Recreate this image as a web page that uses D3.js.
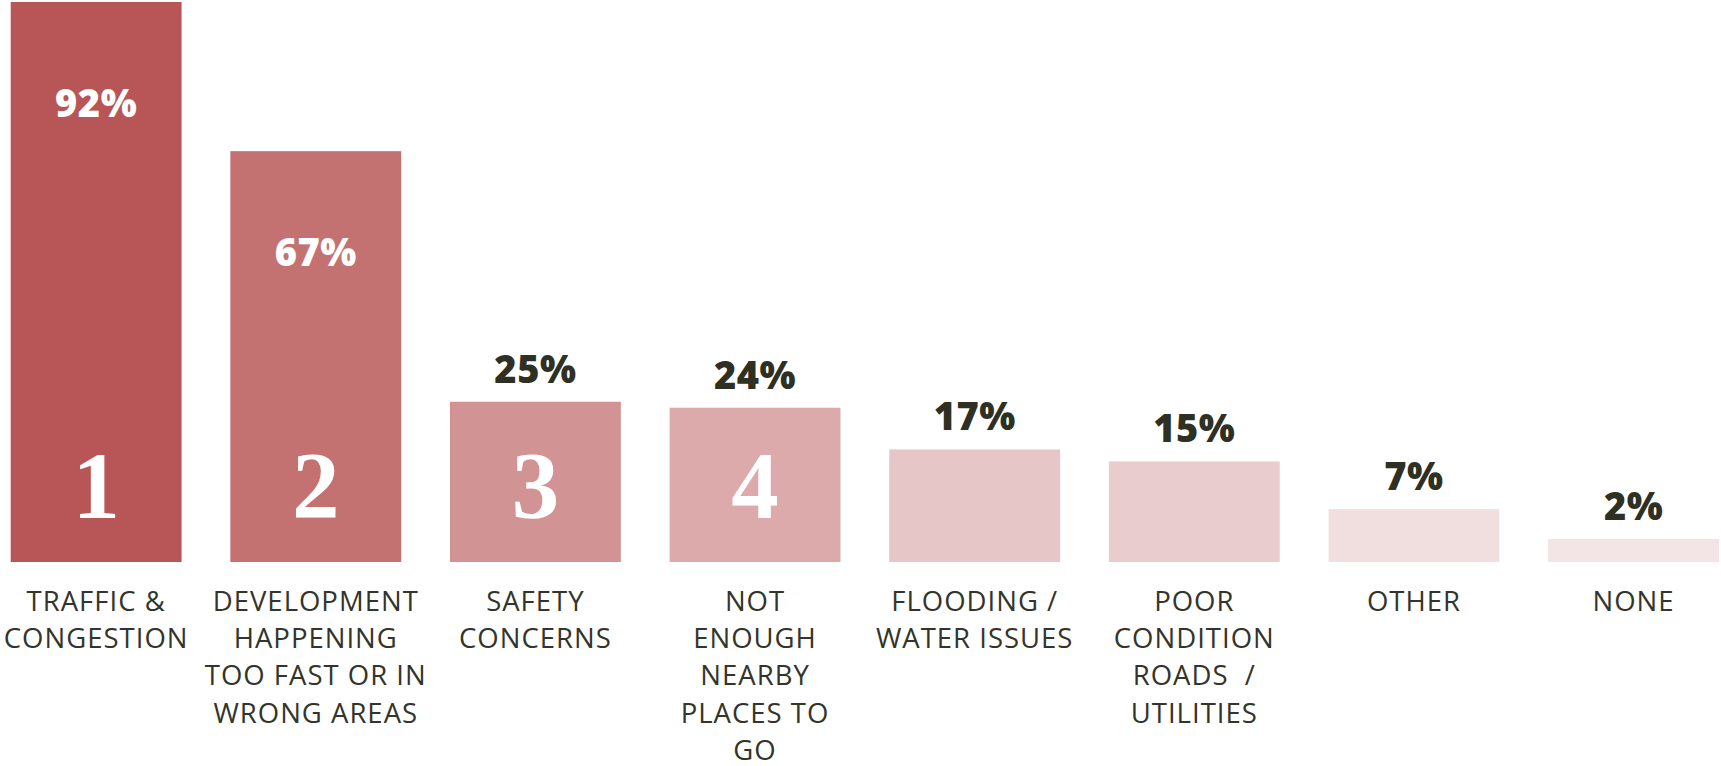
<!DOCTYPE html>
<html>
<head>
<meta charset="utf-8">
<script src="https://cdn.jsdelivr.net/npm/d3@7"></script>
<style>
  html, body { margin: 0; padding: 0; background: #ffffff; }
  svg { display: block; }
</style>
</head>
<body>
<svg id="chart" width="1721" height="766"></svg>
<script>
// Survey: biggest concerns, share of respondents
const categories = [
  "TRAFFIC & CONGESTION",
  "DEVELOPMENT HAPPENING TOO FAST OR IN WRONG AREAS",
  "SAFETY CONCERNS",
  "NOT ENOUGH NEARBY PLACES TO GO",
  "FLOODING / WATER ISSUES",
  "POOR CONDITION ROADS / UTILITIES",
  "OTHER",
  "NONE"
];
const categoryLines = [
  ["TRAFFIC &", "CONGESTION"],
  ["DEVELOPMENT", "HAPPENING", "TOO FAST OR IN", "WRONG AREAS"],
  ["SAFETY", "CONCERNS"],
  ["NOT", "ENOUGH", "NEARBY", "PLACES TO", "GO"],
  ["FLOODING /", "WATER ISSUES"],
  ["POOR", "CONDITION", "ROADS  /", "UTILITIES"],
  ["OTHER"],
  ["NONE"]
];
const values = [92, 67, 25, 24, 17, 15, 7, 2];
const ranks = ["1", "2", "3", "4"];
const barColors = ["#b85657", "#c47172", "#d29394", "#dcaaab", "#e6c6c7", "#e9cdce", "#f1dfe0", "#f3e4e5"];

const svg = d3.select("#chart");
const baseline = 562;

const x = d3.scaleBand()
  .domain(categories)
  .range([10.7, 1719])
  .paddingInner(0.222)
  .paddingOuter(0);

const y = d3.scaleLinear()
  .domain([-1.86, 92])
  .range([baseline, 2]);

const data = categories.map((c, i) => ({ cat: c, value: values[i], lines: categoryLines[i], color: barColors[i], rank: ranks[i] }));
const cx = d => x(d.cat) + x.bandwidth() / 2;

const g = svg.append("g");

// bars
g.selectAll("rect.bar")
  .data(data)
  .join("rect")
  .attr("class", "bar")
  .attr("x", d => x(d.cat))
  .attr("width", x.bandwidth())
  .attr("y", d => y(d.value))
  .attr("height", d => baseline - y(d.value))
  .attr("fill", d => d.color);

// value labels: inside the two tallest bars, above the rest
const inside = d => d.value > 50;
g.selectAll("text.val")
  .data(data)
  .join("text")
  .attr("class", "val")
  .attr("x", cx)
  .attr("y", d => inside(d) ? y(d.value) + 115 : y(d.value) - 19)
  .attr("text-anchor", "middle")
  .attr("font-family", "'Open Sans', sans-serif")
  .attr("font-weight", 800)
  .attr("font-size", 38)
  .attr("letter-spacing", 0.5)
  .attr("fill", d => inside(d) ? "#ffffff" : "#2f3024")
  .text(d => d.value + "%");

// rank numerals in the top four bars
g.selectAll("text.rank")
  .data(data.filter(d => d.rank))
  .join("text")
  .attr("class", "rank")
  .attr("x", cx)
  .attr("y", baseline - 44.5)
  .attr("text-anchor", "middle")
  .attr("font-family", "'Liberation Serif', 'DejaVu Serif', serif")
  .attr("font-weight", 700)
  .attr("font-size", 95)
  .attr("fill", "#ffffff")
  .text(d => d.rank);

// category labels
const lab = g.selectAll("text.cat")
  .data(data)
  .join("text")
  .attr("class", "cat")
  .attr("x", cx)
  .attr("y", 611)
  .attr("text-anchor", "middle")
  .attr("font-family", "'Open Sans', sans-serif")
  .attr("font-size", 27.5)
  .attr("letter-spacing", 1)
  .attr("fill", "#33342a")
  .style("white-space", "pre");

lab.selectAll("tspan")
  .data(d => d.lines.map(l => ({ l, c: cx(d) })))
  .join("tspan")
  .attr("x", t => t.c)
  .attr("dy", (t, i) => i === 0 ? 0 : 37.2)
  .text(t => t.l);
</script>
</body>
</html>
